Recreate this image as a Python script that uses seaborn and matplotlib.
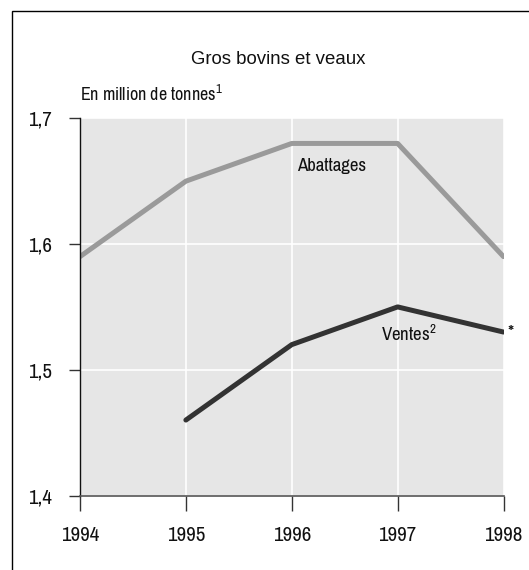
import matplotlib
matplotlib.use("Agg")
import matplotlib.pyplot as plt
import pandas as pd
import seaborn as sns
from matplotlib.patches import Rectangle

years = [1994, 1995, 1996, 1997, 1998]
abattages = [1.59, 1.65, 1.68, 1.68, 1.59]
ventes_years = [1995, 1996, 1997, 1998]
ventes = [1.46, 1.52, 1.55, 1.53]
y_ticks = [1.4, 1.5, 1.6, 1.7]
y_tick_labels = ["1,4", "1,5", "1,6", "1,7"]

df = pd.concat([
    pd.DataFrame({"annee": years, "valeur": abattages, "serie": "Abattages"}),
    pd.DataFrame({"annee": ventes_years, "valeur": ventes, "serie": "Ventes"}),
])

sns.set_theme(style="darkgrid")
plt.rcParams["font.family"] = ["Archivo Narrow", "DejaVu Sans"]
plt.rcParams["mathtext.fontset"] = "custom"
plt.rcParams["mathtext.rm"] = "Archivo Narrow"

fig = plt.figure(figsize=(5.29, 5.70), dpi=100)
ax = fig.add_axes([80 / 529, 1 - 495.5 / 570, 423.5 / 529, 377.2 / 570])

sns.lineplot(
    data=df, x="annee", y="valeur", hue="serie",
    palette={"Abattages": "#9a9a9a", "Ventes": "#333333"},
    linewidth=3.6, legend=False, ax=ax,
)

ax.set_facecolor("#e6e6e6")
ax.grid(True, color="white", linewidth=1.2)
ax.set_xlim(1994, 1998)
ax.set_ylim(1.4, 1.7)
ax.set_xticks(years)
ax.set_xticklabels([str(y) for y in years])
ax.set_yticks(y_ticks)
ax.set_yticklabels(y_tick_labels)
ax.set_xlabel("")
ax.set_ylabel("")
ax.tick_params(axis="x", length=11, width=1, color="#333333", direction="out",
               bottom=True, labelsize=15, pad=11, labelcolor="#111111")
ax.tick_params(axis="y", length=8, width=1, color="#333333", direction="out",
               left=True, labelsize=15, pad=12, labelcolor="#111111")
for side in ["top", "right"]:
    ax.spines[side].set_visible(False)
ax.spines["left"].set_visible(True)
ax.spines["left"].set_color("#111111")
ax.spines["left"].set_linewidth(1)
ax.spines["bottom"].set_visible(True)
ax.spines["bottom"].set_color("#555555")
ax.spines["bottom"].set_linewidth(1.2)

ax.text(1996.05, 1.6624, "Abattages", fontsize=13.5, ha="left", va="center", color="#111111")
ax.text(1996.84, 1.5284, "Ventes$^{\\mathrm{2}}$", fontsize=13.5, ha="left", va="center", color="#111111")
ax.text(1998.04, 1.5247, "*", fontsize=14, ha="left", va="baseline", color="#111111")

fig.text(278.6 / 529, 1 - 64 / 570, "Gros bovins et veaux", fontsize=13.4,
         ha="center", va="baseline", color="#111111",
         family=["Liberation Sans", "DejaVu Sans"])
fig.text(80 / 529, 1 - 100.7 / 570, "En million de tonnes$^{\\mathrm{1}}$", fontsize=13,
         ha="left", va="baseline", color="#111111")

fig.patches.append(Rectangle((12 / 529, -0.1), 1.2, 1.1 - 11 / 570,
                             transform=fig.transFigure, fill=False,
                             edgecolor="black", linewidth=1))

fig.savefig("out.png", dpi=100, facecolor="white")
